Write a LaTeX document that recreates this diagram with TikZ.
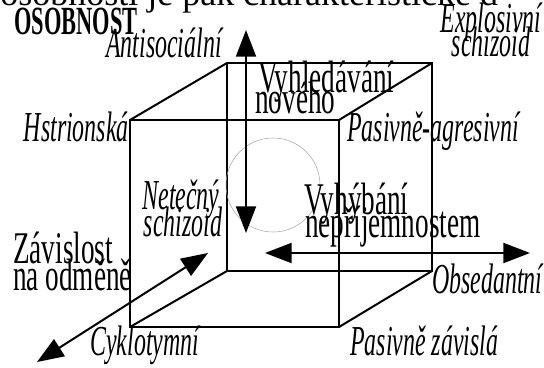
\documentclass[tikz,border=0pt]{standalone}
\usepackage{fontspec}
\setmainfont[FakeStretch=0.56]{Liberation Serif}
\newfontfamily\plainfont{Liberation Serif}
\newfontfamily\traitfont[FakeStretch=0.6]{Liberation Serif}
\usetikzlibrary{arrows.meta}

\begin{document}
\begin{tikzpicture}[
  x=0.75pt, y=-0.75pt,
  >={Triangle[length=20pt,width=15pt]},
  edge/.style={line width=1.5pt},
  axis/.style={line width=1.5pt,<->},
  type/.style={inner sep=0pt,font=\fontsize{32}{32}\selectfont\itshape},
  trait/.style={inner sep=0pt,font=\fontsize{34}{34}\traitfont}
]
\useasboundingbox (0,0) rectangle (544,368);
% cut-off line of running text
\begin{scope}
  \clip (0,0) rectangle (544,368);
  \node[inner sep=0pt,anchor=base west,font=\fontsize{27}{27}\plainfont] (txt) at (0,5) {osobnosti je pak charakteristické d};
\end{scope}
\node[inner sep=0pt,anchor=base west,font=\fontsize{30}{30}\selectfont\bfseries] (title) at (14,34) {OSOBNOST};

% cube
\coordinate (fa) at (130,120);
\coordinate (fb) at (339,120);
\coordinate (fc) at (339,327);
\coordinate (fd) at (130,327);
\coordinate (ba) at (227,63);
\coordinate (bb) at (432,63);
\coordinate (bc) at (432,271);
\coordinate (bd) at (227,271);
\draw[edge] (fa) -- (fb) -- (fc) -- (fd) -- cycle;
\draw[edge] (ba) -- (bb) -- (bc) -- (bd) -- cycle;
\draw[edge] (fa) -- (ba);
\draw[edge] (fb) -- (bb);
\draw[edge] (fc) -- (bc);
\draw[edge] (fd) -- (bd);

\draw[gray!70,thin] (273,185) circle (47);

% axes
\coordinate (up) at (246,30);
\coordinate (dn) at (246,233);
\coordinate (lt) at (265,253);
\coordinate (rt) at (530,253);
\coordinate (fw) at (208,253);
\coordinate (bk) at (37,362);
\draw[axis] (up) -- (dn);
\draw[axis] (lt) -- (rt);
\draw[axis] (fw) -- (bk);

% corners
\node[type,anchor=base east] (ant) at (222,57) {Antisociální};
\node[type,anchor=base] (exp) at (491,32) {Explosivní};
\node[type,anchor=base] (exps) at (491,56) {schizoid};
\node[type,anchor=base east] (hst) at (129,141) {Hstrionská};
\node[type,anchor=base west] (pag) at (347,141) {Pasivně-agresivní};
\node[type,anchor=base] (net) at (181,209) {Netečný};
\node[type,anchor=base] (nets) at (183,236) {schizoid};
\node[type,anchor=base west] (cyk) at (90,355) {Cyklotymní};
\node[type,anchor=base west] (obs) at (432,293) {Obsedantní};
\node[type,anchor=base west] (pzv) at (350,355) {Pasivně závislá};

% dimensions
\node[trait,anchor=base west] (vyh) at (258,92) {Vyhledávání};
\node[trait,anchor=base west] (nov) at (255,113) {nového};
\node[trait,anchor=base west] (vyb) at (304,214) {Vyhýbání};
\node[trait,anchor=base west] (nep) at (305,237) {nepříjemnostem};
\node[trait,anchor=base west] (zav) at (13,263) {Závislost};
\node[trait,anchor=base west] (odm) at (13,290) {na odměně};
\end{tikzpicture}
\end{document}
